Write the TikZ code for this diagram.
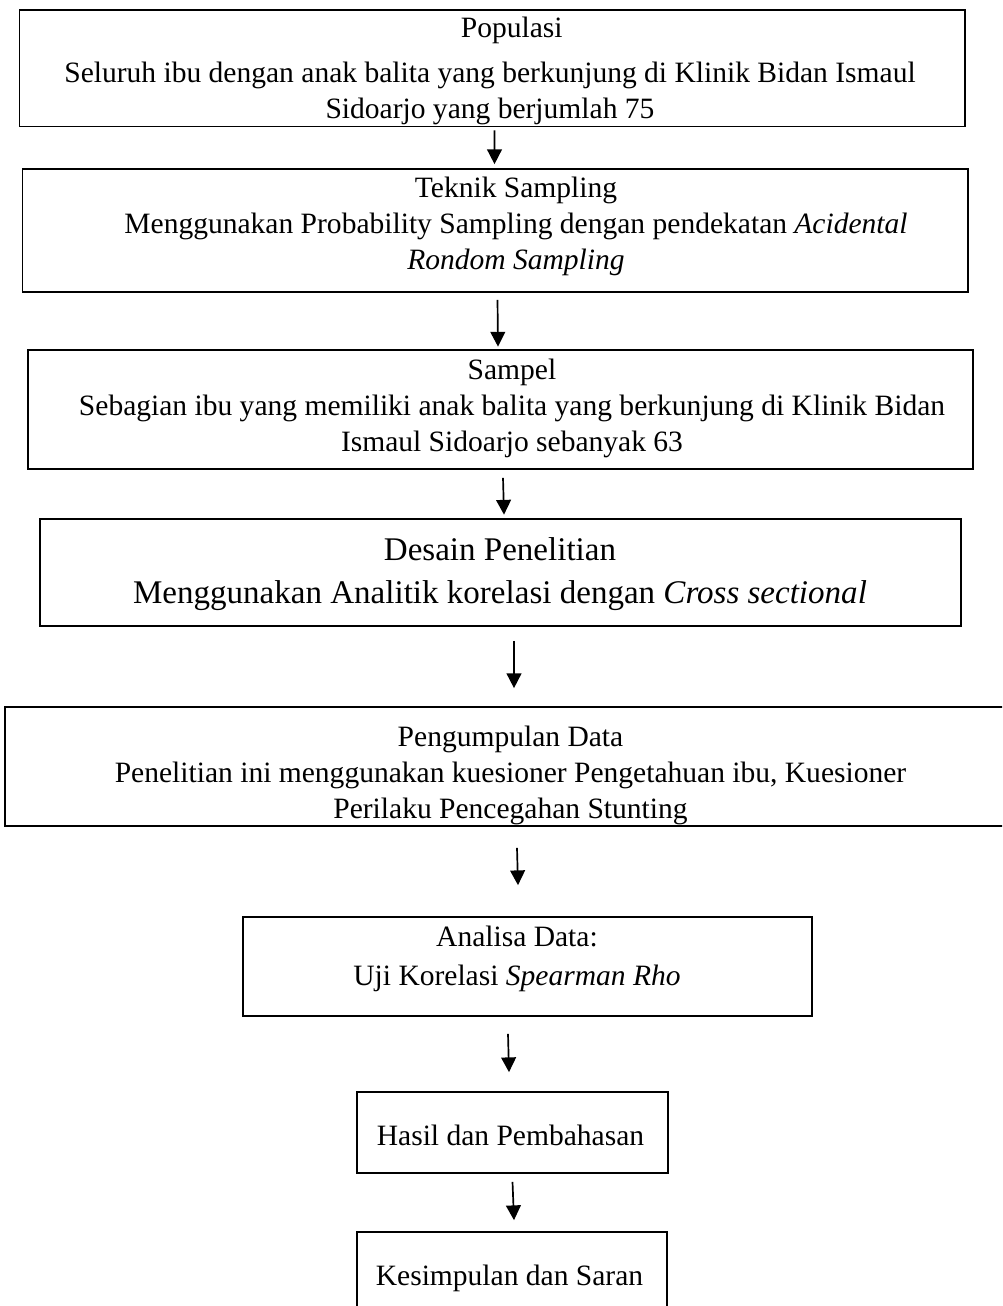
\documentclass[tikz,border=0pt]{standalone}
\usepackage{fontspec}
\setmainfont{Liberation Serif}
\usetikzlibrary{arrows.meta,fit}

\tikzset{
  box/.style={draw, line width=1.2pt, inner sep=0pt},
  txt/.style={align=center, inner sep=0pt, font=\fontsize{21}{25.6}\selectfont},
  arr/.style={line width=1.2pt, -{Triangle[length=10.5pt,width=10.5pt]}}
}

\begin{document}
\begin{tikzpicture}[x=0.025cm, y=-0.025cm]

  % Page frame (pixel units)
  \useasboundingbox (0,0) rectangle (1002,1306);
  \fill[white] (0,0) rectangle (1002,1306);
  \clip (0,0) rectangle (1002,1306);

  % Boxes
  \node[box, fit={(19.5,10) (965,126.5)}] (pop) {};
  \node[box, fit={(22.5,169) (968,292)}] (tek) {};
  \node[box, fit={(28,350) (973,469)}] (sam) {};
  \node[box, fit={(40,519) (961,626)}] (des) {};
  \node[box, fit={(5,707) (1016,826)}] (pen) {};
  \node[box, fit={(243,917) (812,1016)}] (ana) {};
  \node[box, fit={(357,1092) (668,1173)}] (has) {};
  \node[box, fit={(357,1232) (667,1324)}] (kes) {};

  % Texts
  \node[txt] (popTxt) at (490,71) {\hspace*{31pt}Populasi\\[6pt]Seluruh ibu dengan anak balita yang berkunjung di Klinik Bidan Ismaul\\Sidoarjo yang berjumlah 75};
  \node[txt] (tekTxt) at (516,226.5) {Teknik Sampling\\Menggunakan Probability Sampling dengan pendekatan \textit{Acidental}\\\textit{Rondom Sampling}};
  \node[txt] (samTxt) at (512,408) {Sampel\\Sebagian ibu yang memiliki anak balita yang berkunjung di Klinik Bidan\\Ismaul Sidoarjo sebanyak 63};
  \node[txt, font=\fontsize{23.5}{30.6}\selectfont] (desTxt) at (500,574) {Desain Penelitian\\Menggunakan Analitik korelasi dengan \textit{Cross sectional}};
  \node[txt] (penTxt) at (510.5,775.5) {Pengumpulan Data\\Penelitian ini menggunakan kuesioner Pengetahuan ibu, Kuesioner\\Perilaku Pencegahan Stunting};
  \node[txt] (anaTxt) at (517,958.5) {Analisa Data:\\[2pt]Uji Korelasi \textit{Spearman Rho}};
  \node[txt] (hasTxt) at (510.5,1135) {Hasil dan Pembahasan};
  \node[txt] (kesTxt) at (509.5,1278) {Kesimpulan dan Saran};

  % Arrows
  \draw[arr] ([shift={(2.25,3)}]pop.south) -- ([shift={(-0.75,-4)}]tek.north);
  \draw[arr] ([shift={(2.25,7)}]tek.south) -- ([shift={(-2.5,-2.5)}]sam.north);
  \draw[arr] ([shift={(2.5,8)}]sam.south) -- ([shift={(3.5,-3.5)}]des.north);
  \draw[arr] ([shift={(13.5,14)}]des.south) -- ([shift={(3.5,-18)}]pen.north);
  \draw[arr] ([shift={(6.5,21)}]pen.south) -- ([shift={(-9.5,-31)}]ana.north);
  \draw[arr] ([shift={(-19.5,17)}]ana.south) -- ([shift={(-3.5,-19)}]has.north);
  \draw[arr] ([shift={(0,8)}]has.south) -- ([shift={(2,-11)}]kes.north);
\end{tikzpicture}
\end{document}
